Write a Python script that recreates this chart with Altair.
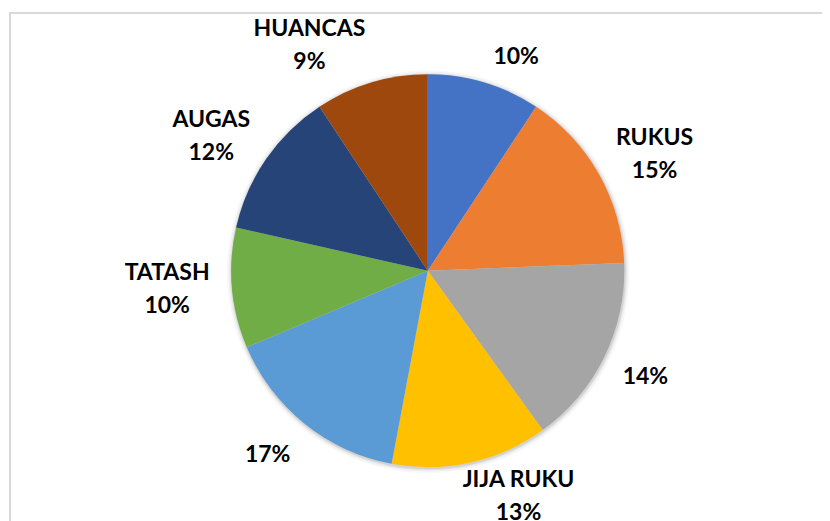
import altair as alt
import pandas as pd

# Slice shares (clockwise from 12 o'clock)
values = [9.3, 15.1, 15.7, 12.9, 15.7, 9.9, 12.2, 9.3]
names = ["", "RUKUS", "", "JIJA RUKU", "", "TATASH", "AUGAS", "HUANCAS"]
pct_labels = [10, 15, 14, 13, 17, 10, 12, 9]
palette = ["#4472C4", "#ED7D31", "#A5A5A5", "#FFC000",
           "#5B9BD5", "#70AD47", "#264478", "#9E480E"]

FONT_SIZE = 23
LINE_H = 33


def est_width(text):
    # rough text width estimate for Lato bold at FONT_SIZE
    return max(sum(8 if ch in " IJ" else 15 for ch in line) for line in text.split("\n"))


labels = [f"{n}\n{p}%" if n else f"{p}%" for n, p in zip(names, pct_labels)]
df = pd.DataFrame({
    "idx": list(range(len(values))),
    "value": values,
    "label": labels,
    "w": [est_width(t) for t in labels],
    "nl": [t.count("\n") + 1 for t in labels],
})

W, H = 814, 513
CX, CY = 419.8, 262.7
R = 196.5
RL = 211.5   # anchor radius for labels
GAP = 5

one = pd.DataFrame({"k": [0]})

frame_top = alt.Chart(one).mark_rule(color="#d9d9d9", strokeWidth=2).encode(
    x=alt.value(2), x2=alt.value(W), y=alt.value(5))
frame_left = alt.Chart(one).mark_rule(color="#d9d9d9", strokeWidth=2).encode(
    x=alt.value(2), y=alt.value(4), y2=alt.value(H))

shadows = [
    alt.Chart(one).mark_arc(theta=0, theta2=6.2832, outerRadius=R + r, color="#000", opacity=o)
    .encode(x=alt.value(CX + 0.5), y=alt.value(CY + 1))
    for r, o in [(5, 0.025), (3.5, 0.035), (2, 0.05), (1, 0.07)]
]

color_scale = alt.Scale(domain=list(range(len(values))), range=palette)

arcs = alt.Chart(df).mark_arc(outerRadius=R).encode(
    theta=alt.Theta("value:Q", stack=True),
    color=alt.Color("idx:N", scale=color_scale, legend=None),
    order=alt.Order("idx:Q"),
    x=alt.value(CX),
    y=alt.value(CY),
)

text = alt.Chart(df).transform_window(
    cum="sum(value)", sort=[alt.SortField("idx")], frame=[None, 0]
).transform_joinaggregate(
    total="sum(value)"
).transform_calculate(
    mid="2*PI*(datum.cum - datum.value/2)/datum.total"
).transform_calculate(
    s="sin(datum.mid)", c="cos(datum.mid)"
).transform_calculate(
    lx=(f"{CX} + {RL}*datum.s + (datum.s > 0 ? 1 : -1)*({GAP} + datum.w/2)"
        f"*min(1, 3.5*abs(datum.s))"),
    ly=(f"{CY} - {RL}*datum.c - (datum.nl == 1 ? 17.5 : 22)*datum.c"
        f" + (datum.nl == 1 ? 5.5 : -2) - (datum.nl - 1)*{LINE_H}/2"),
).mark_text(
    align="center", baseline="middle", font="Lato", fontSize=FONT_SIZE,
    fontWeight="bold", color="#000000", lineBreak="\n", lineHeight=LINE_H,
).encode(
    x=alt.X("lx:Q", scale=None, axis=None),
    y=alt.Y("ly:Q", scale=None, axis=None),
    text="label:N",
)

chart = alt.layer(
    frame_top, frame_left, *shadows, arcs, text
).properties(
    width=W, height=H, padding=0,
    autosize=alt.AutoSizeParams(type="none"),
).configure_view(stroke=None)

chart.save("out.html", embed_options={"renderer": "svg", "actions": False})
